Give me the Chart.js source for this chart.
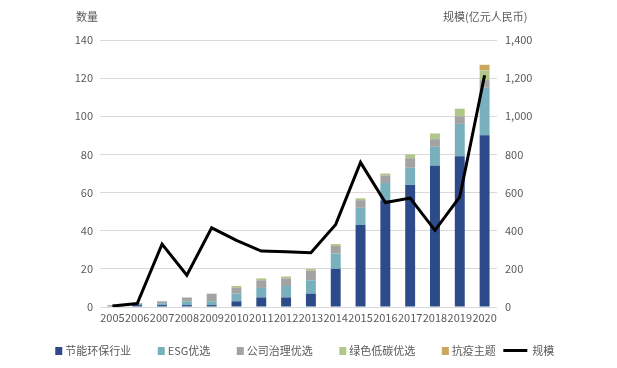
<!DOCTYPE html>
<html>
<head>
<meta charset="utf-8">
<script src="https://cdn.jsdelivr.net/npm/chart.js@4/dist/chart.umd.min.js"></script>
<style>
  html, body { margin: 0; padding: 0; background: #fff; }
  #wrap { width: 617px; height: 368px; }
</style>
</head>
<body>
<div id="wrap"><canvas id="grafica" width="617" height="368"></canvas></div>
<script>
const anios = ['2005','2006','2007','2008','2009','2010','2011','2012','2013','2014','2015','2016','2017','2018','2019','2020'];

const jieneng = [0, 1, 1, 1, 1, 3, 5, 5, 7, 20, 43, 56, 64, 74, 79, 90];
const esg     = [0, 1, 1, 2, 2, 4, 5, 6, 7, 8, 9, 9, 9, 10, 17, 25];
const gongsi  = [1, 0, 1, 2, 4, 3, 4, 4, 5, 4, 4, 4, 5, 4, 4, 4];
const lvse    = [0, 0, 0, 0, 0, 1, 1, 1, 1, 1, 1, 1, 2, 3, 4, 5];
const kangyi  = [0, 0, 0, 0, 0, 0, 0, 0, 0, 0, 0, 0, 0, 0, 0, 3];
const guimo   = [5, 18, 330, 167, 415, 349, 293, 290, 285, 433, 758, 548, 571, 402, 578, 1215];

const fuente = "'Noto Sans CJK SC', 'Noto Sans', sans-serif";
const gris = '#595959';

// marcas de la leyenda: imagen de 31px, la marca pegada a la derecha
function cuadrito(color) {
  const c = document.createElement('canvas');
  c.width = 31; c.height = 8;
  const g = c.getContext('2d');
  g.fillStyle = color;
  g.fillRect(23, 0, 7, 8);
  return c;
}
function rayita() {
  const c = document.createElement('canvas');
  c.width = 31; c.height = 3;
  const g = c.getContext('2d');
  g.fillStyle = '#000';
  g.fillRect(4, 0, 24, 3);
  return c;
}

// titulos de los ejes arriba
const titulos = {
  id: 'titulos',
  afterDraw(chart) {
    const ctx = chart.ctx;
    ctx.save();
    ctx.font = '11px ' + fuente;
    ctx.fillStyle = gris;
    ctx.textBaseline = 'middle';
    ctx.textAlign = 'left';
    ctx.fillText('数量', 76, 17);
    ctx.fillText('规模(亿元人民币)', 443, 17);
    ctx.restore();
  }
};

function barra(label, data, color) {
  return {
    type: 'bar', label, data, backgroundColor: color,
    yAxisID: 'y', stack: 's', order: 2,
    barPercentage: 0.8, categoryPercentage: 0.5,
    pointStyle: cuadrito(color)
  };
}

new Chart(document.getElementById('grafica'), {
  data: {
    labels: anios,
    datasets: [
      barra('节能环保行业', jieneng, '#2d4a8a'),
      barra('ESG优选', esg, '#78b0be'),
      barra('公司治理优选', gongsi, '#a3a3a3'),
      barra('绿色低碳优选', lvse, '#b2c68a'),
      barra('抗疫主题', kangyi, '#c9a85e'),
      {
        type: 'line', label: '规模', data: guimo, yAxisID: 'y1',
        borderColor: '#000', backgroundColor: '#000', borderWidth: 3,
        pointRadius: 0, tension: 0, order: 1, pointStyle: rayita()
      }
    ]
  },
  options: {
    responsive: false,
    animation: false,
    layout: { padding: { top: 40, bottom: 2, right: 27 } },
    plugins: {
      legend: {
        position: 'bottom',
        labels: {
          usePointStyle: true,
          pointStyleWidth: 24,
          boxHeight: 8,
          padding: 7,
          color: gris,
          font: { family: fuente, size: 11 },
          sort: (a, b) => a.datasetIndex - b.datasetIndex
        }
      },
      tooltip: { enabled: false }
    },
    scales: {
      x: {
        grid: { display: false, drawTicks: false },
        border: { display: false },
        ticks: {
          color: gris, maxRotation: 0, autoSkip: false, padding: 4,
          font: { family: fuente, size: 11 }
        },
        afterFit(s) { s.height = 31; }
      },
      y: {
        position: 'left', min: 0, max: 140,
        ticks: { stepSize: 20, color: gris, padding: 7, font: { family: fuente, size: 11 } },
        grid: { color: '#d9d9d9', drawTicks: false },
        border: { display: false },
        afterFit(s) { s.width = 100; }
      },
      y1: {
        position: 'right', min: 0, max: 1400,
        ticks: {
          stepSize: 200, color: gris, padding: 8,
          font: { family: fuente, size: 11 },
          callback: v => v.toLocaleString('en-US')
        },
        grid: { display: false, drawTicks: false },
        border: { display: false },
        afterFit(s) { s.width = 93; }
      }
    }
  },
  plugins: [titulos]
});
</script>
</body>
</html>
